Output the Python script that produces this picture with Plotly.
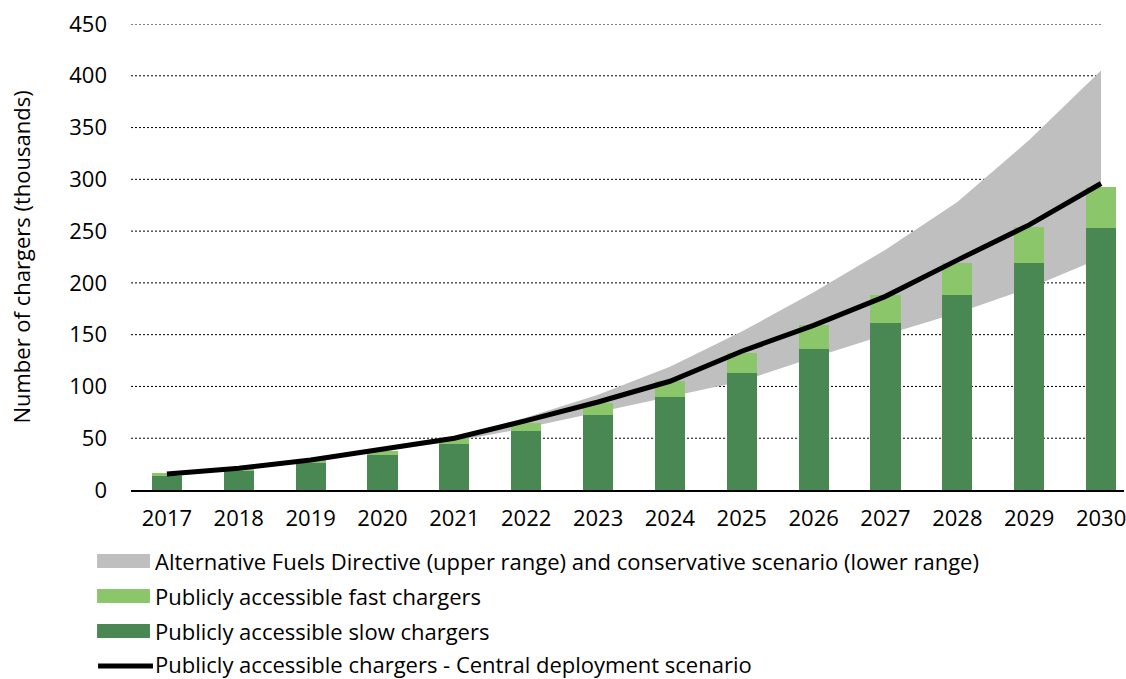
import plotly.graph_objects as go

# ---- data (thousands of chargers) ----
years = [2017, 2018, 2019, 2020, 2021, 2022, 2023, 2024, 2025, 2026, 2027, 2028, 2029, 2030]
slow_chargers = [14, 19, 26.5, 34, 44, 57, 72, 90, 113, 136, 161, 188, 219, 253]
fast_chargers = [2.5, 1.5, 2, 4, 6, 8, 12, 15, 19, 23, 27, 31, 35, 40]
central_scenario = [15.5, 21, 29, 39, 50, 67, 85, 105, 134, 159, 187, 222, 256, 296]

band_years = [2020, 2021, 2022, 2023, 2024, 2025, 2026, 2027, 2028, 2029, 2030]
afd_upper = [39, 51, 70, 92, 119, 153, 191, 232, 278, 338, 405]
conservative_lower = [38, 47, 60, 75, 90, 105, 128, 150, 171, 195, 224]

y_ticks = [0, 50, 100, 150, 200, 250, 300, 350, 400, 450]

legend_labels = [
    "Alternative Fuels Directive (upper range) and conservative scenario (lower range)",
    "Publicly accessible fast chargers",
    "Publicly accessible slow chargers",
    "Publicly accessible chargers - Central deployment scenario",
]

# ---- style ----
GRAY = "#BFBFBF"
LIGHT = "#8CC66A"
DARK = "#498853"
FONT = "Open Sans"
W, H = 1126, 679
ML, MR, MT, MB = 131, 0, 24, 189
PW, PH = W - ML - MR, H - MT - MB
xr = [years[0] - 0.5, years[0] - 0.5 + PW / 72.0]

fig = go.Figure()

# band (drawn on the base subplot, below the bars)
fig.add_trace(go.Scatter(x=band_years, y=conservative_lower, mode="lines",
                         line=dict(width=0, color=GRAY), showlegend=False,
                         hoverinfo="skip", xaxis="x", yaxis="y"))
fig.add_trace(go.Scatter(x=band_years, y=afd_upper, mode="lines",
                         line=dict(width=0, color=GRAY), fill="tonexty",
                         fillcolor=GRAY, name=legend_labels[0], showlegend=False,
                         xaxis="x", yaxis="y"))

# stacked bars on an overlaid subplot
fig.add_trace(go.Bar(x=years, y=slow_chargers, marker=dict(color=DARK, line=dict(width=0)),
                     width=0.42, name=legend_labels[2], showlegend=False,
                     xaxis="x2", yaxis="y2"))
fig.add_trace(go.Bar(x=years, y=fast_chargers, marker=dict(color=LIGHT, line=dict(width=0)),
                     width=0.42, name=legend_labels[1], showlegend=False,
                     xaxis="x2", yaxis="y2"))
fig.add_trace(go.Scatter(x=years, y=central_scenario, mode="lines",
                         line=dict(color="black", width=5), name=legend_labels[3],
                         showlegend=False, xaxis="x2", yaxis="y2"))

# dotted gridlines (behind everything), ending at the last category
shapes = []
for t in y_ticks[1:]:
    shapes.append(dict(type="line", xref="x", yref="y", x0=xr[0], x1=years[-1],
                       y0=t, y1=t, layer="below",
                       line=dict(color="black", width=1, dash="2px,2px")))

# manual legend
def px2paper_x(px):
    return (px - ML) / PW

def px2paper_y(py):
    return (H - MB - py) / PH

rows = [561, 596, 631, 664]
colors = [GRAY, LIGHT, DARK, None]
annotations = []
for lab, col, ry in zip(legend_labels, colors, rows):
    if col is not None:
        shapes.append(dict(type="rect", xref="paper", yref="paper",
                           x0=px2paper_x(97), x1=px2paper_x(150),
                           y0=px2paper_y(ry + 7), y1=px2paper_y(ry - 7),
                           fillcolor=col, line=dict(width=0)))
    else:
        shapes.append(dict(type="line", xref="paper", yref="paper",
                           x0=px2paper_x(98), x1=px2paper_x(153),
                           y0=px2paper_y(ry + 2), y1=px2paper_y(ry + 2),
                           line=dict(color="black", width=5)))
    annotations.append(dict(text=lab, xref="paper", yref="paper",
                            x=px2paper_x(153), y=px2paper_y(ry), xanchor="left",
                            yanchor="middle", showarrow=False,
                            font=dict(family=FONT, size=22, color="black")))

fig.update_layout(
    width=W, height=H,
    margin=dict(l=ML, r=MR, t=MT, b=MB),
    paper_bgcolor="white", plot_bgcolor="white",
    barmode="stack",
    showlegend=False,
    font=dict(family=FONT, size=22, color="black"),
    xaxis=dict(range=xr, tickmode="array", tickvals=years,
               ticktext=[str(y) for y in years], showgrid=False, zeroline=False,
               showline=True, linecolor="black", linewidth=2, ticks="",
               ticklabelstandoff=8, ticklabeloverflow="allow",
               tickfont=dict(family=FONT, size=22)),
    yaxis=dict(range=[0, 450], tickmode="array", tickvals=y_ticks,
               showgrid=False, zeroline=False, showline=False, ticks="",
               ticklabelstandoff=23, tickfont=dict(family=FONT, size=22),
               title=dict(text="Number of chargers (thousands)",
                          font=dict(family=FONT, size=22), standoff=32)),
    xaxis2=dict(overlaying="x", range=xr, visible=False),
    yaxis2=dict(overlaying="y", range=[0, 450], visible=False),
    shapes=shapes,
    annotations=annotations,
)

fig.write_html("out.html", config={"displayModeBar": False},
               post_script="document.body.style.margin='0';document.body.style.overflow='hidden';")
